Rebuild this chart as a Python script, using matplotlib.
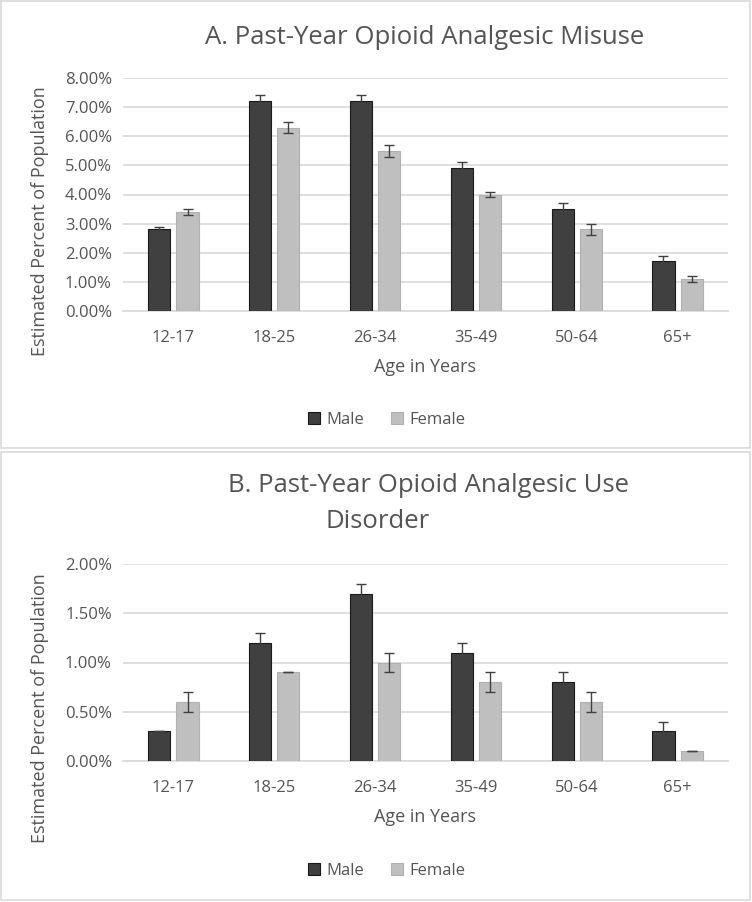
import matplotlib.pyplot as plt
import numpy as np
from matplotlib.patches import Rectangle
from matplotlib.ticker import FuncFormatter, MultipleLocator

plt.rcParams['font.family'] = ['Open Sans', 'DejaVu Sans']

# data
ages = ['12-17', '18-25', '26-34', '35-49', '50-64', '65+']

misuse_male = [2.8, 7.2, 7.2, 4.9, 3.5, 1.7]
misuse_female = [3.4, 6.3, 5.5, 4.0, 2.8, 1.1]
misuse_male_err = [0.1, 0.2, 0.2, 0.2, 0.2, 0.2]
misuse_female_err = [0.1, 0.2, 0.2, 0.1, 0.2, 0.1]

disorder_male = [0.3, 1.2, 1.7, 1.1, 0.8, 0.3]
disorder_female = [0.6, 0.9, 1.0, 0.8, 0.6, 0.1]
disorder_male_err = [0.0, 0.1, 0.1, 0.1, 0.1, 0.1]
disorder_female_err = [0.1, 0.0, 0.1, 0.1, 0.1, 0.0]

W, H = 752, 902
fig = plt.figure(figsize=(W / 100, H / 100), dpi=100)
fig.patch.set_facecolor('white')

txt = '#545454'
grid = '#d9d9d9'
male_c = '#404040'
female_c = '#bfbfbf'


def px_axes(left, top, right, bottom):
    return fig.add_axes([left / W, 1 - bottom / H, (right - left) / W, (bottom - top) / H])


def fx(x):
    return x / W


def fy(y):
    return 1 - y / H


# panel frames
for (x0, y0, x1, y1) in [(1, 1, 750, 448), (1, 452, 750, 900)]:
    fig.patches.append(Rectangle((fx(x0), fy(y1)), fx(x1) - fx(x0), fy(y0) - fy(y1),
                                 transform=fig.transFigure, fill=False,
                                 edgecolor=grid, linewidth=1.2))


def draw_panel(ax, male, female, male_err, female_err, ymax, step, legend_y, ylab_y):
    x = np.arange(len(ages))
    off = 0.14
    w = 0.22
    ax.bar(x - off, male, w, color=male_c, edgecolor='#1a1a1a', linewidth=0.8, zorder=3, label='Male')
    ax.bar(x + off, female, w, color=female_c, edgecolor='#b0b0b0', linewidth=0.8, zorder=3, label='Female')
    ax.errorbar(x - off, male, yerr=male_err, fmt='none', ecolor='#404040',
                elinewidth=1, capsize=3.5, capthick=1, zorder=4)
    ax.errorbar(x + off, female, yerr=female_err, fmt='none', ecolor='#404040',
                elinewidth=1, capsize=3.5, capthick=1, zorder=4)
    ax.set_xlim(-0.5, len(ages) - 0.5)
    ax.set_ylim(0, ymax)
    ax.yaxis.set_major_locator(MultipleLocator(step))
    ax.yaxis.set_major_formatter(FuncFormatter(lambda v, p: f'{v:.2f}%'))
    ax.grid(axis='y', color=grid, linewidth=1.2, zorder=0)
    ax.set_axisbelow(True)
    for s in ['top', 'right', 'left']:
        ax.spines[s].set_visible(False)
    ax.spines['bottom'].set_color(grid)
    ax.spines['bottom'].set_linewidth(1.2)
    ax.set_xticks(x)
    ax.set_xticklabels(ages)
    ax.tick_params(length=0, labelsize=12, labelcolor=txt)
    ax.tick_params(axis='x', pad=14)
    ax.tick_params(axis='y', pad=8)
    ax.set_xlabel('Age in Years', fontsize=13, color=txt, labelpad=8)
    ax.set_ylabel('Estimated Percent of Population', fontsize=13, color=txt)
    ax.yaxis.set_label_coords(-0.122, ylab_y)
    ax.legend(loc='center', bbox_to_anchor=(fx(387), fy(legend_y)), bbox_transform=fig.transFigure,
              ncol=2, frameon=False, fontsize=12, labelcolor=txt, handlelength=0.7,
              handleheight=0.7, handletextpad=0.4, columnspacing=1.6)


axA = px_axes(123, 78, 728, 311)
draw_panel(axA, misuse_male, misuse_female, misuse_male_err, misuse_female_err, 8, 1, 420, 0.386)
fig.text(fx(205), fy(37), 'A. Past-Year Opioid Analgesic Misuse', fontsize=18.5, color=txt,
         ha='left', va='center')

axB = px_axes(123, 564, 728, 761)
draw_panel(axB, disorder_male, disorder_female, disorder_male_err, disorder_female_err, 2, 0.5, 871, 0.27)
fig.text(fx(228), fy(486), 'B. Past-Year Opioid Analgesic Use', fontsize=18.5, color=txt,
         ha='left', va='center')
fig.text(fx(326), fy(521), 'Disorder', fontsize=18.5, color=txt, ha='left', va='center')

plt.savefig('out.png', dpi=100)
